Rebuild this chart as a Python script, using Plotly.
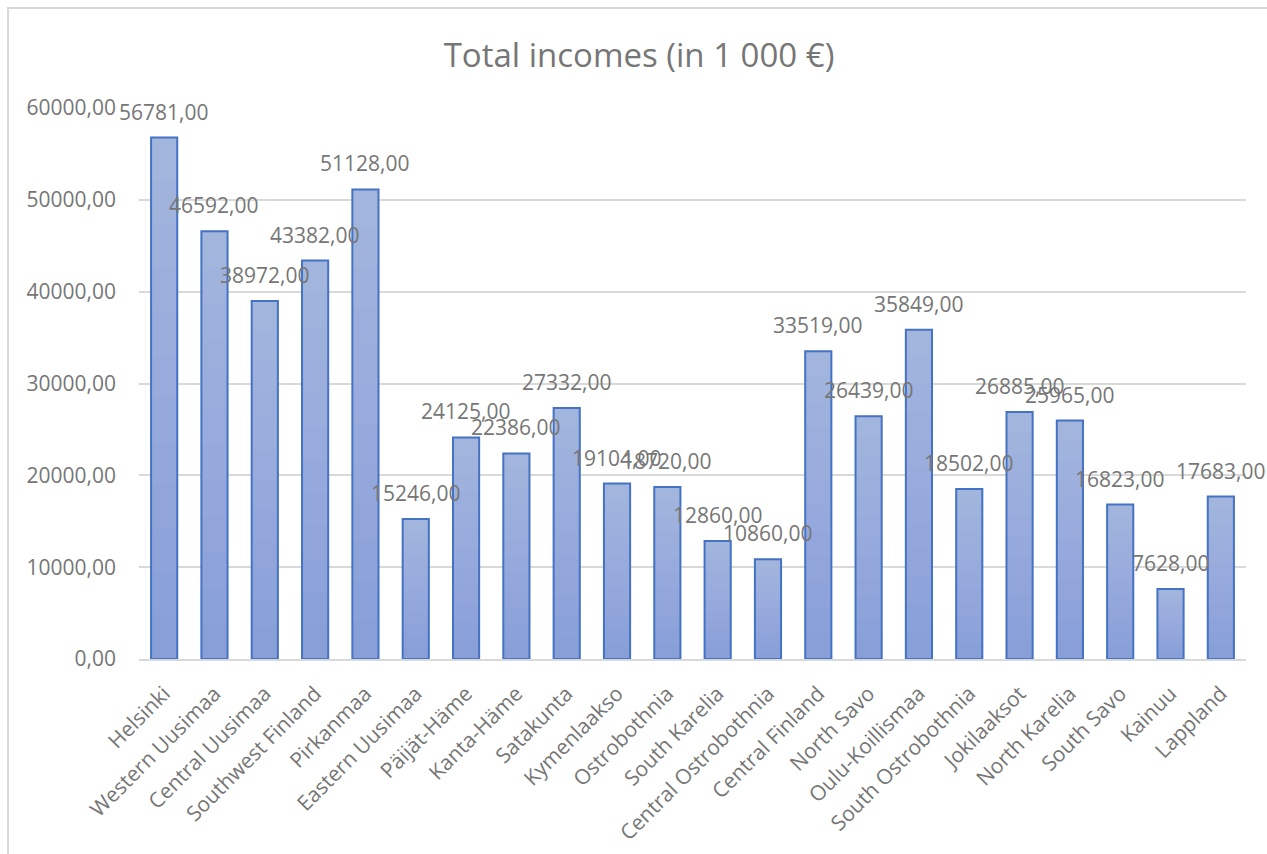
import plotly.graph_objects as go

# Regions and their total incomes (thousand euros)
regions = [
    "Helsinki", "Western Uusimaa", "Central Uusimaa", "Southwest Finland",
    "Pirkanmaa", "Eastern Uusimaa", "Päijät-Häme", "Kanta-Häme", "Satakunta",
    "Kymenlaakso", "Ostrobothnia", "South Karelia", "Central Ostrobothnia",
    "Central Finland", "North Savo", "Oulu-Koillismaa", "South Ostrobothnia",
    "Jokilaaksot", "North Karelia", "South Savo", "Kainuu", "Lappland",
]
incomes = [
    56781, 46592, 38972, 43382, 51128, 15246, 24125, 22386, 27332, 19104,
    18720, 12860, 10860, 33519, 26439, 35849, 18502, 26885, 25965, 16823,
    7628, 17683,
]
y_ticks = [0, 10000, 20000, 30000, 40000, 50000, 60000]


def fmt(v):
    return f"{v:.2f}".replace(".", ",")


GRAY = "#767676"
FONT = "Open Sans"
BAR_WIDTH = 0.52
HEIGHT = 854

fig = go.Figure()

# base fill (bottom colour of the gradient)
fig.add_trace(go.Bar(
    x=regions, y=incomes, width=BAR_WIDTH,
    marker=dict(color="#889fd8", line=dict(width=0)),
    hoverinfo="skip", showlegend=False,
))

# light layers stacked towards the top of each bar give a vertical gradient
N_LAYERS = 12
for i in range(1, N_LAYERS):
    frac = i / N_LAYERS
    fig.add_trace(go.Bar(
        x=regions,
        y=[v * (1 - frac) for v in incomes],
        base=[v * frac for v in incomes],
        width=BAR_WIDTH,
        marker=dict(color="rgba(255,255,255,0.026)", line=dict(width=0)),
        hoverinfo="skip", showlegend=False,
    ))

# outline on top
fig.add_trace(go.Bar(
    x=regions, y=incomes, width=BAR_WIDTH,
    marker=dict(color="rgba(0,0,0,0)", line=dict(color="#4472c4", width=2)),
    name="Total incomes", showlegend=False,
))

# value labels above bars
for r, v in zip(regions, incomes):
    fig.add_annotation(
        x=r, y=v, text=fmt(v), showarrow=False,
        yanchor="bottom", yshift=10,
        font=dict(family=FONT, size=21, color=GRAY),
    )

# chart frame
fig.add_shape(
    type="rect", xref="paper", yref="paper",
    x0=-0.1183, x1=1.03, y0=-0.39, y1=1.1815,
    line=dict(color="#d9d9d9", width=2), fillcolor="rgba(0,0,0,0)",
    layer="below",
)

fig.update_layout(
    width=1267, height=HEIGHT,
    margin=dict(l=139, r=21, t=108, b=195, autoexpand=False),
    paper_bgcolor="white", plot_bgcolor="white",
    barmode="overlay",
    title=dict(
        text="Total incomes (in 1 000 €)",
        x=0.4517, xref="paper", xanchor="center",
        y=1 - 55 / HEIGHT, yref="container", yanchor="middle",
        font=dict(family=FONT, size=33, color=GRAY),
    ),
    font=dict(family=FONT, color=GRAY),
    xaxis=dict(
        type="category", range=[-0.5, len(regions) - 0.5], tickangle=-45,
        tickfont=dict(family=FONT, size=21, color=GRAY),
        showgrid=False, showline=True, linecolor="#d9d9d9", linewidth=2,
        ticks="", ticklabelstandoff=12, automargin=False,
    ),
    yaxis=dict(
        range=[0, 60000], tickvals=y_ticks,
        ticktext=[fmt(t) for t in y_ticks],
        tickfont=dict(family=FONT, size=21, color=GRAY),
        showgrid=True, gridcolor="#d9d9d9", gridwidth=1.5,
        zeroline=False, showline=False, ticks="", ticklabelstandoff=22,
        automargin=False,
    ),
)

fig.write_html("out.html")
